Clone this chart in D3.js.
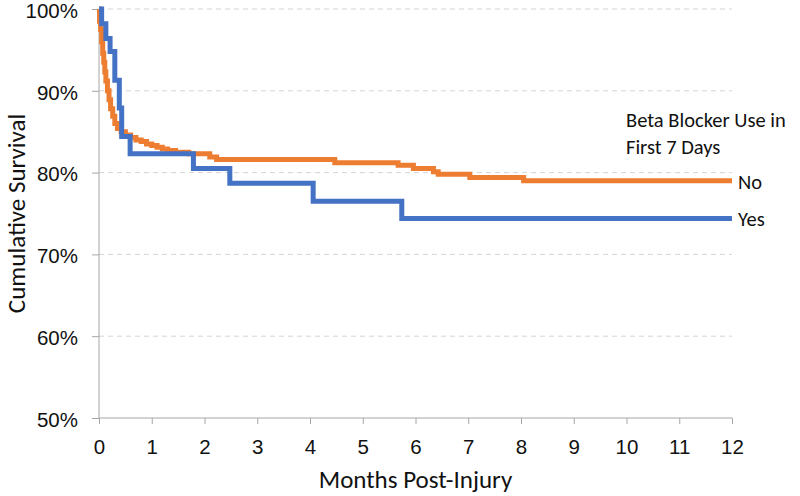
<!DOCTYPE html>
<html>
<head>
<meta charset="utf-8">
<script src="https://cdn.jsdelivr.net/npm/d3@7"></script>
<style>
  html, body { margin: 0; padding: 0; background: #fff; }
  svg { display: block; font-family: Carlito, Lato, "Noto Sans", sans-serif; }
</style>
</head>
<body>
<svg id="chart" width="800" height="496"></svg>
<script>
// ---- data ----
const xTickValues = [0, 1, 2, 3, 4, 5, 6, 7, 8, 9, 10, 11, 12];
const yTickValues = [0.5, 0.6, 0.7, 0.8, 0.9, 1.0];

// Beta blocker use = Yes (blue)
const yesMonths   = [0, 0.05, 0.13, 0.21, 0.30, 0.385, 0.43, 0.59, 1.79, 2.48, 4.06, 5.74, 12];
const yesSurvival = [1.000, 0.982, 0.964, 0.948, 0.913, 0.879, 0.844, 0.823, 0.805, 0.787, 0.765, 0.744, 0.744];

// Beta blocker use = No (orange)
const noMonths   = [0, 0.01, 0.03, 0.05, 0.07, 0.09, 0.11, 0.13, 0.16, 0.19, 0.22, 0.26, 0.30, 0.35, 0.42, 0.50, 0.60, 0.70, 0.80, 0.90, 1.00, 1.10, 1.20, 1.30, 1.45, 1.70, 2.10, 2.23, 4.47, 5.67, 5.96, 6.34, 6.43, 7.03, 8.05, 12];
const noSurvival = [1.000, 0.985, 0.975, 0.960, 0.946, 0.935, 0.923, 0.912, 0.900, 0.889, 0.878, 0.869, 0.860, 0.854, 0.850, 0.846, 0.843, 0.840, 0.838, 0.835, 0.833, 0.831, 0.829, 0.827, 0.825, 0.823, 0.819, 0.816, 0.812, 0.809, 0.805, 0.801, 0.798, 0.794, 0.790, 0.790];

const legendTitle = ["Beta Blocker Use in", "First 7 Days"];
const seriesNames = ["No", "Yes"];
const xTitle = "Months Post-Injury";
const yTitle = "Cumulative Survival";

// ---- layout ----
const svg = d3.select("#chart");
const mLeft = 99, mRight = 732, mTop = 9, mBottom = 418;

const x = d3.scaleLinear().domain([0, 12]).range([mLeft, mRight]);
const y = d3.scaleLinear().domain([0.5, 1.0]).range([mBottom, mTop]);

const textColor = "#111";
const axisColor = "#a6a6a6";
const fsTick = "20.5px", fsTitle = "25px";

// gridlines
svg.append("g")
  .selectAll("line")
  .data(yTickValues.filter(v => v > 0.5))
  .join("line")
  .attr("x1", mLeft).attr("x2", mRight)
  .attr("y1", d => y(d)).attr("y2", d => y(d))
  .attr("stroke", "#d4d4d4")
  .attr("stroke-width", 1)
  .attr("stroke-dasharray", "5,4");

// y axis
const yAxis = svg.append("g")
  .attr("transform", `translate(${mLeft},0)`)
  .call(d3.axisLeft(y).tickValues(yTickValues).tickFormat(d3.format(".0%")).tickSize(7).tickPadding(14));
yAxis.select(".domain").attr("stroke", axisColor).attr("d", `M0,${mTop}V${mBottom}`);
yAxis.selectAll(".tick line").attr("stroke", axisColor);
yAxis.selectAll(".tick text").attr("fill", textColor).attr("dy", "0.4em").style("font-size", fsTick);

// x axis
const xAxis = svg.append("g")
  .attr("transform", `translate(0,${mBottom})`)
  .call(d3.axisBottom(x).tickValues(xTickValues).tickFormat(d3.format("d")).tickSize(6).tickPadding(15));
xAxis.select(".domain").attr("stroke", axisColor).attr("d", `M${mLeft},0H${mRight}`);
xAxis.selectAll(".tick line").attr("stroke", axisColor);
xAxis.selectAll(".tick text").attr("fill", textColor).style("font-size", fsTick);

// lines
const line = d3.line()
  .x(d => x(d[0]))
  .y(d => y(d[1]))
  .curve(d3.curveStepAfter);

const noData = noMonths.map((m, i) => [m, noSurvival[i]]);
const yesData = yesMonths.map((m, i) => [m, yesSurvival[i]]);

svg.append("path")
  .attr("d", line(noData))
  .attr("fill", "none")
  .attr("stroke", "#ED7D31")
  .attr("stroke-width", 5);

svg.append("path")
  .attr("d", line(yesData))
  .attr("fill", "none")
  .attr("stroke", "#4472C4")
  .attr("stroke-width", 5);

// series labels
svg.append("text")
  .attr("x", 738).attr("y", y(noSurvival[noSurvival.length - 1]) + 8)
  .attr("fill", textColor).style("font-size", fsTick)
  .text(seriesNames[0]);
svg.append("text")
  .attr("x", 738).attr("y", y(yesSurvival[yesSurvival.length - 1]) + 8)
  .attr("fill", textColor).style("font-size", fsTick)
  .text(seriesNames[1]);

// legend title
svg.append("g").selectAll("text")
  .data(legendTitle)
  .join("text")
  .attr("x", 626)
  .attr("y", (d, i) => 127 + i * 26.5)
  .attr("fill", textColor)
  .style("font-size", fsTick)
  .text(d => d);

// axis titles
svg.append("text")
  .attr("x", (mLeft + mRight) / 2).attr("y", 488)
  .attr("text-anchor", "middle")
  .attr("fill", textColor).style("font-size", fsTitle)
  .text(xTitle);

svg.append("text")
  .attr("transform", `translate(25,${(mTop + mBottom) / 2}) rotate(-90)`)
  .attr("text-anchor", "middle")
  .attr("fill", textColor).style("font-size", fsTitle)
  .text(yTitle);
</script>
</body>
</html>
